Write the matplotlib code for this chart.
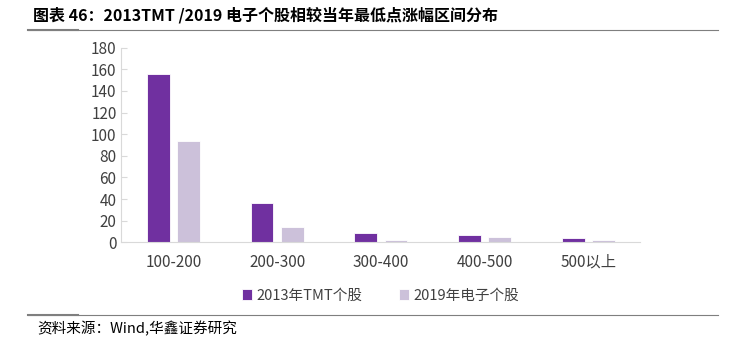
import matplotlib
matplotlib.use('Agg')
import matplotlib.pyplot as plt
import numpy as np

plt.rcParams['font.family'] = ['Liberation Sans Narrow', 'Noto Sans CJK SC', 'DejaVu Sans']

categories = ['100-200', '200-300', '300-400', '400-500', '500以上']
tmt_2013 = [156, 36, 9, 7, 4]
elec_2019 = [94, 14, 2, 5, 2]
series_names = ['2013年TMT个股', '2019年电子个股']
yticks = [0, 20, 40, 60, 80, 100, 120, 140, 160, 180]

fig = plt.figure(figsize=(7.36, 3.40), dpi=100)
ax = fig.add_axes([0.165, 0.287, 0.705, 0.573])

x = np.arange(len(categories))
w = 0.22
ax.bar(x - 0.145, tmt_2013, w, color='#7030A0', edgecolor='white', linewidth=0.6, label=series_names[0])
ax.bar(x + 0.145, elec_2019, w, color='#CCC1DA', edgecolor='white', linewidth=0.6, label=series_names[1])

ax.set_xlim(-0.5, len(categories) - 0.5)
ax.set_ylim(0, 180)
ax.set_yticks(yticks)
ax.set_xticks(x)
ax.set_xticklabels(categories, fontsize=11, color='#404040')
ax.tick_params(axis='y', labelsize=11, labelcolor='#404040', direction='in', length=4, color='#d9d9d9')
ax.tick_params(axis='x', length=0, pad=8)
for s in ['top', 'right']:
    ax.spines[s].set_visible(False)
for s in ['left', 'bottom']:
    ax.spines[s].set_color('#d9d9d9')

ax.legend(loc='upper center', bbox_to_anchor=(0.5, -0.17), ncol=2, frameon=False,
          fontsize=10.5, handlelength=0.7, handleheight=0.7, handletextpad=0.3,
          columnspacing=2.5, labelcolor='#404040')

fig.text(0.045, 0.94, '图表 46：2013TMT /2019 电子个股相较当年最低点涨幅区间分布',
         fontsize=11.5, fontweight='bold', family=['Noto Sans CJK SC', 'DejaVu Sans'])
fig.add_artist(plt.Line2D([0.038, 0.975], [0.912, 0.912], color='#7f7f7f', lw=0.8))
fig.add_artist(plt.Line2D([0.038, 0.106], [0.912, 0.912], color='#7f7f7f', lw=1.5))
fig.add_artist(plt.Line2D([0.038, 0.975], [0.073, 0.073], color='#7f7f7f', lw=0.8))
fig.add_artist(plt.Line2D([0.038, 0.106], [0.073, 0.073], color='#7f7f7f', lw=1.5))
fig.text(0.05, 0.02, '资料来源：Wind,华鑫证券研究', fontsize=10.5,
         family=['Noto Sans CJK SC', 'DejaVu Sans'])

fig.savefig('out.png', dpi=100)
